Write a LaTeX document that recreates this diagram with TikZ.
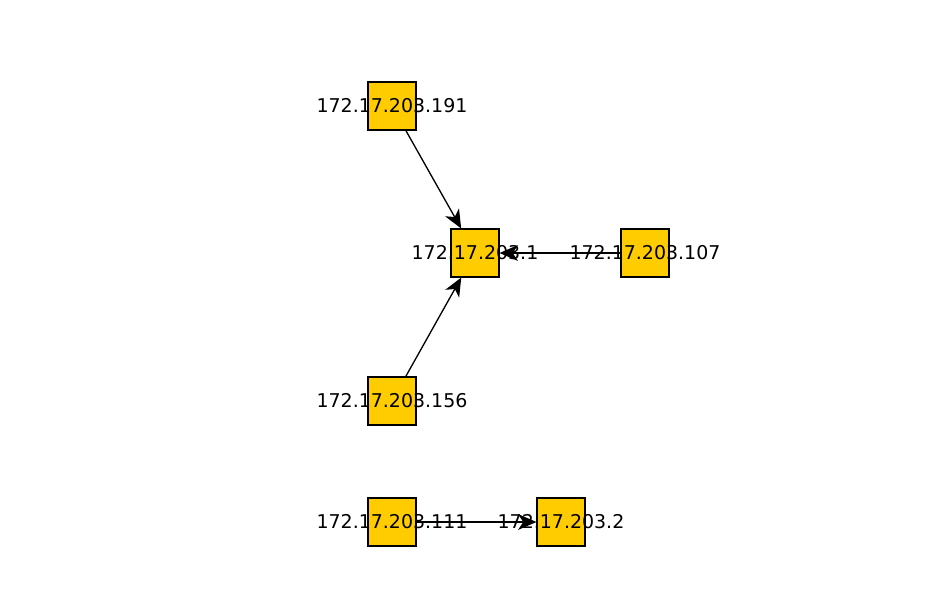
\documentclass[tikz,border=0pt]{standalone}
\usepackage{fontspec}
\setmainfont{DejaVu Sans}
\usepackage{tikz}
\usetikzlibrary{arrows.meta}

\tikzset{
	host/.style={draw=black, fill={rgb,255:red,255;green,204;blue,0}, line width=0.6pt, minimum size=0.96cm, inner sep=0pt},
	hostlabel/.style={font=\fontsize{10.8}{12}\selectfont},
	link/.style={line width=0.75pt, -{Stealth[length=10.5pt, width=9pt, inset=3pt]}}
}

\begin{document}
\begin{tikzpicture}[x=0.02cm, y=-0.02cm]
	\useasboundingbox (0, 0) rectangle (937, 599);
	% Hosts:
	\node[host](H191) at (392, 106){};
	\node[host](H1) at (475, 253){};
	\node[host](H107) at (645, 253){};
	\node[host](H156) at (392, 401){};
	\node[host](H111) at (392, 522){};
	\node[host](H2) at (561, 522){};
	% Labels:
	\node[hostlabel] at (H191.center){172.17.203.191};
	\node[hostlabel] at (H1.center){172.17.203.1};
	\node[hostlabel] at (H107.center){172.17.203.107};
	\node[hostlabel] at (H156.center){172.17.203.156};
	\node[hostlabel] at (H111.center){172.17.203.111};
	\node[hostlabel] at (H2.center){172.17.203.2};
	% Links:
	\draw[link] (H191) -- (H1);
	\draw[link] (H156) -- (H1);
	\draw[link] (H107) -- (H1);
	\draw[link] (H111) -- (H2);
\end{tikzpicture}
\end{document}
